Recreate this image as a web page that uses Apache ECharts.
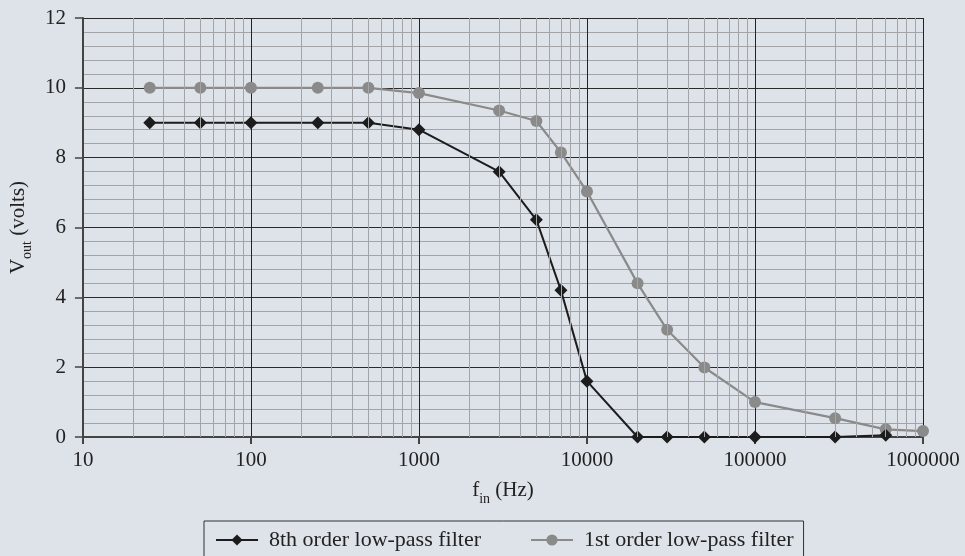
<!DOCTYPE html>
<html><head><meta charset="utf-8">
<script src="https://cdn.jsdelivr.net/npm/echarts@6/dist/echarts.min.js"></script>
<style>html,body{margin:0;padding:0;background:#dee3ea}#c{width:965px;height:556px}</style>
</head><body><div id="c"></div>
<script>
const freq8 = [25, 50, 100, 250, 500, 1000, 3000, 5000, 7000, 10000, 20000, 30000, 50000, 100000, 300000, 600000];
const vout8 = [9, 9, 9, 9, 9, 8.8, 7.6, 6.22, 4.2, 1.6, 0, 0, 0, 0, 0, 0.05];
const freq1 = [25, 50, 100, 250, 500, 1000, 3000, 5000, 7000, 10000, 20000, 30000, 50000, 100000, 300000, 600000, 1000000];
const vout1 = [10, 10, 10, 10, 10, 9.85, 9.35, 9.05, 8.15, 7.03, 4.4, 3.07, 1.99, 1.0, 0.54, 0.22, 0.17];
const seriesNames = ['8th order low-pass filter', '1st order low-pass filter'];
const xMin = 10, xMax = 1000000;
const yMin = 0, yMax = 12, yStep = 2;
const minorMultipliers = [2, 3, 4, 5, 6, 7, 8, 9];

const xMinorTicks = [];
for (let d = xMin; d < xMax; d *= 10) minorMultipliers.forEach(m => xMinorTicks.push(d * m));

const FONT = 'Liberation Serif';
const richName = {
  a: { fontFamily: FONT, fontSize: 21, color: '#222', lineHeight: 24, verticalAlign: 'top' },
  s: { fontFamily: FONT, fontSize: 14, color: '#222', lineHeight: 14, padding: [12, 0, 0, 0], verticalAlign: 'top' }
};
const chart = echarts.init(document.getElementById('c'));
chart.setOption({
  backgroundColor: '#dee3ea',
  animation: false,
  grid: { left: 82, right: 42, top: 18, bottom: 119, containLabel: false },
  xAxis: {
    type: 'log', logBase: 10, min: xMin, max: xMax,
    name: '{a|f}{s|in}{a| (Hz)}', nameLocation: 'middle', nameGap: 43,
    nameTextStyle: { rich: richName },
    axisLine: { show: true, lineStyle: { color: '#444', width: 2 } },
    axisTick: { show: true, inside: false, length: 7, lineStyle: { color: '#444', width: 2 } },
    axisLabel: { fontFamily: FONT, fontSize: 21, color: '#222', margin: 13,
      formatter: v => String(Math.round(v)) },
    splitLine: { show: true, lineStyle: { color: '#222', width: 1 } },
    minorTick: { show: false }, minorSplitLine: { show: false }
  },
  yAxis: {
    type: 'value', min: yMin, max: yMax, interval: yStep,
    name: '{a|V}{s|out}{a| (volts)}', nameLocation: 'middle', nameGap: 50, nameRotate: 90,
    nameTextStyle: { rich: richName },
    axisLine: { show: true, lineStyle: { color: '#444', width: 2 } },
    axisTick: { show: true, inside: false, length: 8, lineStyle: { color: '#444', width: 1.5 } },
    axisLabel: { fontFamily: FONT, fontSize: 21, color: '#222', margin: 17 },
    splitLine: { show: true, lineStyle: { color: '#2a2a2a', width: 1 } },
    minorTick: { show: false, splitNumber: 5 },
    minorSplitLine: { show: true, lineStyle: { color: '#a2a4a8', width: 1 } }
  },
  legend: {
    left: 204, top: 521, orient: 'horizontal',
    padding: [8, 10, 14, 11], itemGap: 49, itemWidth: 42, itemHeight: 14,
    borderColor: '#333', borderWidth: 1, backgroundColor: '#dee3ea',
    textStyle: { fontFamily: FONT, fontSize: 22, color: '#222', padding: [0, 0, 0, 6] },
    data: seriesNames
  },
  series: [
    {
      name: 'minor', type: 'line', data: [], z: 1, silent: true,
      markLine: { silent: true, symbol: 'none', animation: false, label: { show: false },
        lineStyle: { color: '#a2a4a8', width: 1, type: 'solid' },
        data: xMinorTicks.map(v => ({ xAxis: v })) }
    },
    {
      name: seriesNames[0], type: 'line', z: 4,
      data: freq8.map((f, i) => [f, vout8[i]]),
      symbol: 'diamond', symbolSize: 13,
      lineStyle: { color: '#1c1c1c', width: 2 },
      itemStyle: { color: '#1c1c1c' }
    },
    {
      name: seriesNames[1], type: 'line', z: 3,
      data: freq1.map((f, i) => [f, vout1[i]]),
      symbol: 'circle', symbolSize: 12,
      lineStyle: { color: '#8a8a8a', width: 2.2 },
      itemStyle: { color: '#8a8a8a' }
    }
  ]
});
</script></body></html>
